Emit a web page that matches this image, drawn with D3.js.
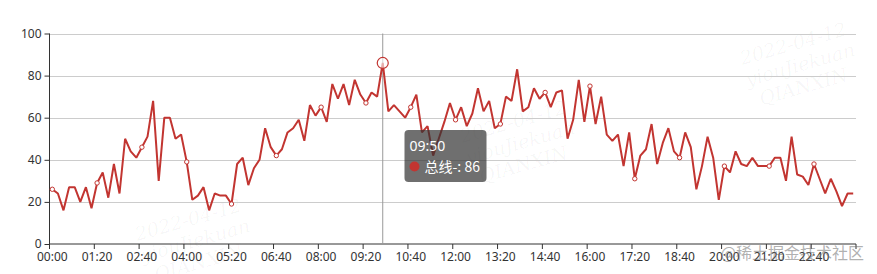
<!DOCTYPE html>
<html>
<head>
<meta charset="utf-8">
<script src="https://cdn.jsdelivr.net/npm/d3@7"></script>
<style>
  html, body { margin: 0; padding: 0; background: #fff; }
  svg { display: block; }
  .tick text { font-family: "Noto Sans", "Noto Sans CJK SC", sans-serif; font-size: 12px; fill: #333; }
</style>
</head>
<body>
<div id="chart"></div>
<script>
// series: one value every 10 minutes, 00:00 .. 23:50
var seriesName = '总线-';
var values = [
  26, 24, 16, 27, 27, 20, 27, 17, 29, 34, 22, 38, 24, 50, 44, 41,
  46, 51, 68, 30, 60, 60, 50, 52, 39, 21, 23, 27, 16, 24, 23, 23,
  19, 38, 41, 28, 36, 40, 55, 46, 42, 45, 53, 55, 59, 49, 66, 61,
  65, 58, 76, 69, 76, 66, 78, 71, 67, 72, 70, 86, 63, 66, 63, 60,
  65, 71, 53, 56, 42, 50, 58, 67, 59, 65, 56, 62, 74, 63, 68, 55,
  57, 70, 68, 83, 63, 65, 74, 69, 72, 65, 72, 73, 50, 59, 78, 58,
  75, 57, 70, 52, 49, 52, 37, 53, 31, 42, 45, 57, 38, 48, 55, 44,
  41, 53, 46, 26, 37, 51, 41, 21, 37, 34, 44, 38, 37, 41, 37, 37,
  37, 41, 41, 30, 51, 33, 32, 28, 38, 31, 24, 31, 25, 18, 24, 24
];
var times = values.map(function(d, i) {
  var m = i * 10;
  return d3.format("02")(Math.floor(m / 60)) + ":" + d3.format("02")(m % 60);
});
var yTicks = [0, 20, 40, 60, 80, 100];
var labelEvery = 8;
var hoverTime = '09:50';
var watermark = ['2022-04-12', 'yiouJiekuan', 'QIANXIN'];
var credit = '@稀土掘金技术社区';

var width = 877, height = 274,
  plotL = 49.5, plotR = 856, plotT = 33.5, plotB = 244,
  color = '#c23531';

var svg = d3.select("#chart").append("svg")
  .attr("width", width)
  .attr("height", height);

var x = d3.scaleBand().domain(times).range([plotL, plotR]).padding(0);
var cx = function(t) { return x(t) + x.bandwidth() / 2; };
var y = d3.scaleLinear().domain([0, 100]).range([plotB, plotT]);

// faint tiled watermark
var wmLayer = svg.append("g");
[[190, 226], [515, 128], [795, 50]].forEach(function(p) {
  var g = wmLayer.append("g")
    .attr("transform", "translate(" + p[0] + "," + p[1] + ") rotate(-16)");
  watermark.forEach(function(s, i) {
    g.append("text")
      .attr("x", i == 0 ? 0 : 4 - i * 3)
      .attr("y", i * 22)
      .attr("text-anchor", "middle")
      .attr("font-family", "DejaVu Serif, serif")
      .attr("font-style", "italic")
      .attr("font-size", 19)
      .attr("fill", "rgba(0,0,0,0.04)")
      .text(s);
  });
});

// grid
svg.append("g").selectAll("line")
  .data(yTicks.filter(function(d) { return d > 0; }))
  .enter().append("line")
  .attr("x1", plotL).attr("x2", plotR)
  .attr("y1", function(d) { return Math.round(y(d)) + 0.5; })
  .attr("y2", function(d) { return Math.round(y(d)) + 0.5; })
  .attr("stroke", "#ccc")
  .attr("stroke-width", 1);

// y axis
var yAxis = svg.append("g")
  .attr("transform", "translate(" + plotL + ",0)")
  .call(d3.axisLeft(y).tickValues(yTicks).tickSize(5).tickPadding(3));
yAxis.select(".domain").remove();
yAxis.selectAll(".tick line").attr("stroke", "#333");
svg.append("line")
  .attr("x1", plotL).attr("x2", plotL)
  .attr("y1", plotT).attr("y2", plotB)
  .attr("stroke", "#333");

// x axis: ticks on band edges, labels on band centres
var xAxis = svg.append("g")
  .attr("transform", "translate(0," + plotB + ")");
xAxis.append("line")
  .attr("x1", plotL).attr("x2", plotR)
  .attr("stroke", "#333");
var shown = times.filter(function(d, i) { return i % labelEvery == 0; });
xAxis.selectAll(".xtick")
  .data(shown.concat([null]))
  .enter().append("line")
  .attr("x1", function(d) { return d ? x(d) : plotR; })
  .attr("x2", function(d) { return d ? x(d) : plotR; })
  .attr("y1", 0).attr("y2", 5)
  .attr("stroke", "#333");
xAxis.selectAll(".xlab")
  .data(shown)
  .enter().append("text")
  .attr("x", cx)
  .attr("y", 16.5)
  .attr("text-anchor", "middle")
  .attr("font-family", "Noto Sans, sans-serif")
  .attr("font-size", 12)
  .attr("fill", "#333")
  .text(function(d) { return d; });

// crosshair
svg.append("line")
  .attr("x1", cx(hoverTime)).attr("x2", cx(hoverTime))
  .attr("y1", plotT).attr("y2", plotB)
  .attr("stroke", "#999")
  .attr("stroke-width", 1);

// line
var line = d3.line()
  .x(function(d, i) { return cx(times[i]); })
  .y(function(d) { return y(d); });
svg.append("path")
  .attr("d", line(values))
  .attr("fill", "none")
  .attr("stroke", color)
  .attr("stroke-width", 2)
  .attr("stroke-linejoin", "bevel");

// symbols every 8th point
svg.selectAll(".sym")
  .data(values.map(function(d, i) { return i; }).filter(function(i) { return i % labelEvery == 0; }))
  .enter().append("circle")
  .attr("cx", function(i) { return cx(times[i]); })
  .attr("cy", function(i) { return y(values[i]); })
  .attr("r", 2.2)
  .attr("fill", "#fff")
  .attr("stroke", color)
  .attr("stroke-width", 1);

var hi = times.indexOf(hoverTime);
svg.append("circle")
  .attr("cx", cx(hoverTime))
  .attr("cy", y(values[hi]))
  .attr("r", 5.5)
  .attr("fill", "#fff")
  .attr("fill-opacity", 0.6)
  .attr("stroke", color)
  .attr("stroke-width", 1.2);

// tooltip
var tip = svg.append("g").attr("transform", "translate(404.5,130)");
tip.append("rect")
  .attr("width", 82).attr("height", 52).attr("rx", 4)
  .attr("fill", "rgba(50,50,50,0.7)");
tip.append("text")
  .attr("x", 5).attr("y", 21)
  .attr("font-family", "Noto Sans, sans-serif")
  .attr("font-size", 14)
  .attr("fill", "#fff")
  .text(hoverTime);
tip.append("circle")
  .attr("cx", 10).attr("cy", 36.5).attr("r", 5)
  .attr("fill", color);
tip.append("text")
  .attr("x", 20).attr("y", 42)
  .attr("font-family", "Noto Sans CJK SC, sans-serif")
  .attr("font-size", 14)
  .attr("fill", "#fff")
  .text(seriesName + ": " + values[hi]);

// site credit
svg.append("text")
  .attr("x", 864).attr("y", 259)
  .attr("text-anchor", "end")
  .attr("font-family", "Noto Sans CJK SC, sans-serif")
  .attr("font-size", 16)
  .attr("fill", "rgba(110,110,110,0.55)")
  .text(credit);
</script>
</body>
</html>
